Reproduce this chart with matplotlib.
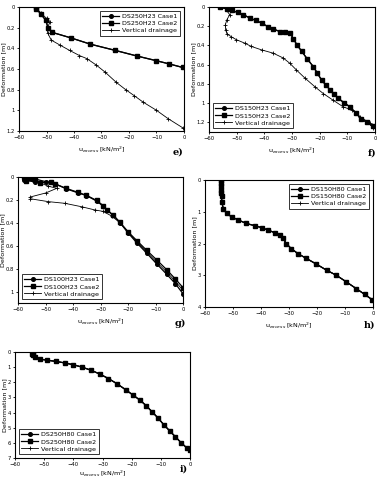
import matplotlib
matplotlib.use("Agg")
import matplotlib.pyplot as plt

# ---- data (u_excess [kN/m2], deformation [m]) ----
# e) DS250H23
e_case_x = [-54.0, -53.7, -52.0, -50.2, -49.5, -48.0, -41.0, -34.0, -25.0, -17.0, -10.0, -5.5, -0.5]
e_case_y = [0.0, 0.016, 0.07, 0.13, 0.2, 0.245, 0.30, 0.36, 0.42, 0.475, 0.52, 0.55, 0.585]
e_vd_x = [-54.0, -52.0, -50.0, -48.6, -49.6, -49.6, -48.3, -45.0, -41.6, -38.0, -35.3, -32.0,
          -28.7, -24.6, -21.2, -18.0, -14.9, -10.0, -5.8, -0.4]
e_vd_y = [0.0, 0.06, 0.11, 0.145, 0.19, 0.25, 0.32, 0.37, 0.42, 0.47, 0.50, 0.56,
          0.63, 0.73, 0.80, 0.86, 0.92, 1.0, 1.08, 1.17]

# f) DS150H23
f_case_x = [-56.0, -53.5, -51.8, -49.6, -47.6, -45.2, -43.1, -41.0, -38.8, -36.8, -34.3, -32.5,
            -30.7, -29.5, -28.3, -26.5, -24.5, -22.3, -20.8, -19.3, -17.8, -16.3, -14.8, -13.3,
            -11.2, -9.0, -7.0, -5.1, -3.0, -0.8]
f_case_y = [0.0, 0.02, 0.036, 0.056, 0.08, 0.115, 0.14, 0.167, 0.203, 0.23, 0.255, 0.262,
            0.27, 0.33, 0.39, 0.46, 0.54, 0.62, 0.69, 0.76, 0.81, 0.86, 0.905, 0.95,
            0.995, 1.04, 1.10, 1.16, 1.20, 1.24]
f_vd_x = [-56.0, -54.3, -52.5, -53.5, -54.1, -54.0, -53.5, -51.9, -50.1, -47.1, -44.7, -41.0,
          -36.8, -33.2, -30.8, -28.4, -25.3, -21.7, -18.7, -15.1, -11.4, -8.4, -5.4, -1.8, -0.6]
f_vd_y = [0.0, 0.01, 0.08, 0.13, 0.185, 0.237, 0.28, 0.31, 0.34, 0.376, 0.41, 0.446,
          0.48, 0.53, 0.585, 0.655, 0.74, 0.83, 0.90, 0.97, 1.04, 1.07, 1.14, 1.21, 1.26]

# g) DS100H23
g_c1_x = [-57.0, -55.0, -58.0, -54.0, -53.9, -50.0, -46.6, -42.4, -38.1, -35.1, -31.4, -29.0,
          -27.8, -25.3, -22.9, -19.9, -16.8, -13.2, -9.5, -5.9, -2.8, 0.0]
g_c1_y = [0.0, 0.02, 0.03, 0.04, 0.017, 0.04, 0.058, 0.104, 0.139, 0.162, 0.21, 0.255,
          0.284, 0.336, 0.40, 0.49, 0.575, 0.665, 0.76, 0.85, 0.93, 1.02]
g_c2_x = [-58.0, -56.0, -57.0, -54.0, -52.0, -48.0, -46.6, -42.4, -38.1, -35.1, -31.4, -29.0,
          -27.8, -25.3, -22.9, -19.9, -16.8, -13.2, -9.5, -5.9, -2.8, 0.0]
g_c2_y = [0.0, 0.01, 0.035, 0.02, 0.05, 0.045, 0.06, 0.10, 0.135, 0.16, 0.205, 0.25,
          0.285, 0.335, 0.395, 0.48, 0.555, 0.64, 0.725, 0.81, 0.89, 0.965]
g_vd_x = [-57.0, -55.0, -52.0, -49.0, -45.9, -50.0, -55.6, -55.5, -49.0, -42.9, -36.8, -32.0,
          -29.1, -26.0, -22.9, -19.9, -16.8, -13.2, -9.5, -5.9, -2.8, 0.0]
g_vd_y = [0.0, 0.03, 0.05, 0.08, 0.099, 0.14, 0.175, 0.19, 0.215, 0.23, 0.26, 0.288,
          0.30, 0.34, 0.40, 0.485, 0.565, 0.655, 0.745, 0.83, 0.91, 0.99]

# h) DS150H80
h_x = [-54.3, -54.4, -54.3, -54.2, -54.2, -54.1, -54.0, -53.5, -52.3, -50.5, -48.1, -45.2,
       -42.2, -39.8, -37.4, -35.1, -33.3, -32.1, -31.0, -29.2, -26.8, -23.8, -20.2, -16.6,
       -13.1, -9.5, -6.0, -3.0, -0.3]
h_y = [0.0, 0.1, 0.2, 0.3, 0.4, 0.5, 0.68, 0.9, 1.05, 1.16, 1.26, 1.37,
       1.44, 1.50, 1.58, 1.66, 1.74, 1.84, 2.0, 2.16, 2.32, 2.47, 2.65, 2.84,
       3.0, 3.21, 3.42, 3.60, 3.77]

# i) DS250H80
i_x = [-54.0, -54.2, -53.8, -53.0, -51.5, -49.0, -46.0, -43.0, -40.0, -37.0, -34.0, -31.0,
       -28.0, -25.0, -22.0, -19.5, -17.0, -15.0, -13.0, -11.0, -9.0, -7.0, -5.0, -3.0, -1.0, 0.0]
i_y = [0.0, 0.1, 0.2, 0.35, 0.47, 0.54, 0.62, 0.72, 0.84, 1.0, 1.2, 1.45,
       1.75, 2.1, 2.5, 2.85, 3.2, 3.55, 3.95, 4.35, 4.8, 5.2, 5.6, 6.0, 6.35, 6.5]

W, H = 379, 480
fig = plt.figure(figsize=(W / 100, H / 100), dpi=100)


def px_axes(x0, y0, x1, y1):
    return fig.add_axes([x0 / W, 1 - y1 / H, (x1 - x0) / W, (y1 - y0) / H])


def style(ax, ymax, yticks, letter, lx, ly, xpad=3.5):
    ax.set_xlim(-60, 0)
    ax.set_ylim(ymax, 0)
    ax.set_xticks(range(-60, 1, 10))
    ax.set_yticks(yticks)
    ax.set_yticklabels([("%g" % t) for t in yticks])
    ax.tick_params(labelsize=3.8, length=1.5, width=0.6, pad=1.2)
    for s in ax.spines.values():
        s.set_linewidth(0.8)
    ax.set_ylabel("Deformation [m]", fontsize=4.6, labelpad=0.5)
    ax.set_xlabel("u$_{excess}$ [kN/m$^2$]", fontsize=4.6, labelpad=xpad)
    fig.text(lx / W, 1 - ly / H, letter, fontsize=7, fontweight="bold",
             family="DejaVu Serif", ha="center", va="center")


def plot3(ax, x1, y1, x2, y2, x3, y3, name, loc):
    kw = dict(color="black", lw=0.9, ms=2.6)
    ax.plot(x1, y1, marker="o", label=name + " Case1", **kw)
    ax.plot(x2, y2, marker="s", label=name + " Case2", **kw)
    ax.plot(x3, y3, marker="+", label="Vertical drainage", color="black", lw=0.6, ms=3.5, mew=0.6)
    leg = ax.legend(loc=loc, fontsize=4.6, frameon=True, fancybox=False, borderpad=0.4,
                    handlelength=2.6, handletextpad=0.5, labelspacing=0.25, borderaxespad=0.6)
    leg.get_frame().set_edgecolor("black")
    leg.get_frame().set_linewidth(0.7)


ax_e = px_axes(19, 7, 184, 131)
plot3(ax_e, e_case_x, e_case_y, e_case_x, e_case_y, e_vd_x, e_vd_y, "DS250H23", "upper right")
style(ax_e, 1.2, [0, 0.2, 0.4, 0.6, 0.8, 1, 1.2], "e)", 178, 152)

ax_f = px_axes(209, 7, 375, 132)
plot3(ax_f, f_case_x, f_case_y, f_case_x, f_case_y, f_vd_x, f_vd_y, "DS150H23", "lower left")
style(ax_f, 1.3, [0, 0.2, 0.4, 0.6, 0.8, 1, 1.2], "f)", 372, 153)

ax_g = px_axes(18, 177, 183, 303)
plot3(ax_g, g_c1_x, g_c1_y, g_c2_x, g_c2_y, g_vd_x, g_vd_y, "DS100H23", "lower left")
style(ax_g, 1.1, [0, 0.2, 0.4, 0.6, 0.8, 1], "g)", 180, 323)

ax_h = px_axes(205, 180, 373, 307)
plot3(ax_h, h_x, h_y, h_x, h_y, h_x, h_y, "DS150H80", "upper right")
style(ax_h, 4, [0, 1, 2, 3, 4], "h)", 370, 325)

ax_i = px_axes(15, 352, 190, 458)
plot3(ax_i, i_x, i_y, i_x, i_y, i_x, i_y, "DS250H80", "lower left")
style(ax_i, 7, [0, 1, 2, 3, 4, 5, 6, 7], "i)", 184, 469, xpad=1.5)

fig.savefig("out.png", dpi=100)
